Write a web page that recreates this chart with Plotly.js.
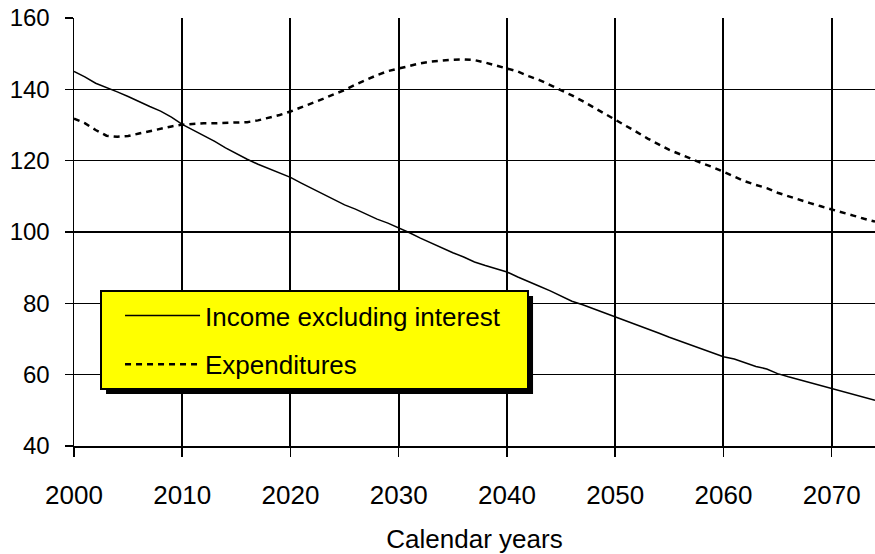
<!DOCTYPE html>
<html>
<head>
<meta charset="utf-8">
<script src="https://cdn.plot.ly/plotly-3.0.1.min.js"></script>
<style>
  html, body { margin: 0; padding: 0; background: #fff; }
  #chart { width: 875px; height: 554px; }
</style>
</head>
<body>
<div id="chart"></div>
<script>
"use strict"

// calendar years 2000..2074
var years = [];
for (var yr = 2000; yr <= 2074; yr++) years.push(yr);

var income = [
	145.0, 143.5, 141.7, 140.6, 139.3, 138.0, 136.5, 135.2, 133.9, 132.2,
	130.2, 128.6, 127.1, 125.4, 123.6, 121.9, 120.4, 119.0, 117.8, 116.6,
	115.3, 113.7, 112.2, 110.6, 109.2, 107.6, 106.4, 104.9, 103.6, 102.5,
	101.2, 99.8, 98.3, 96.9, 95.5, 94.2, 93.0, 91.6, 90.6, 89.8,
	88.8, 87.4, 86.0, 84.8, 83.5, 82.0, 80.6, 79.6, 78.5, 77.4,
	76.3, 75.2, 74.0, 72.8, 71.7, 70.5, 69.4, 68.2, 67.1, 66.1,
	65.0, 64.4, 63.4, 62.3, 61.6, 60.3, 59.4, 58.6, 57.7, 56.8,
	56.0, 55.3, 54.5, 53.8, 52.8
];

var expenditures = [
	131.8, 130.5, 128.6, 127.0, 126.7, 126.9, 127.6, 128.3, 129.0, 129.6,
	130.1, 130.4, 130.5, 130.5, 130.6, 130.6, 130.8, 131.3, 132.0, 132.8,
	133.8, 134.9, 136.0, 137.3, 138.6, 139.8, 141.3, 142.7, 144.0, 145.1,
	145.9, 146.7, 147.3, 147.8, 148.1, 148.3, 148.4, 148.2, 147.5, 146.7,
	145.9, 145.0, 143.7, 142.6, 141.2, 139.8, 138.3, 136.7, 135.0, 133.2,
	131.4, 129.8, 128.0, 126.2, 124.6, 123.0, 121.8, 120.5, 119.3, 118.2,
	116.8, 115.6, 114.2, 113.2, 112.3, 111.0, 110.0, 108.9, 108.1, 107.2,
	106.4, 105.5, 104.6, 103.7, 102.9
];

var xTicks = [2000, 2010, 2020, 2030, 2040, 2050, 2060, 2070];
var yTicks = [40, 60, 80, 100, 120, 140, 160];

var font = 'Liberation Sans, Arial, sans-serif';
var W = 875, H = 554;
var mL = 74, mR = 0, mT = 18, mB = 108;

var incomeTrace = {
	x: years,
	y: income,
	// trailing no-break spaces widen the legend box on the right
	name: 'Income excluding interest\u00a0\u00a0\u00a0',
	legendgroup: 'inc',
	mode: 'lines',
	type: 'scatter',
	line: {color: '#000', width: 1.5}
};

var expTrace = {
	x: years,
	y: expenditures,
	name: 'Expenditures',
	legendgroup: 'exp',
	mode: 'lines',
	type: 'scatter',
	line: {color: '#000', width: 2.5, dash: '6px,5px'}
};

var layout = {
	width: W,
	height: H,
	margin: {l: mL, r: mR, t: mT, b: mB, pad: 0},
	paper_bgcolor: '#fff',
	plot_bgcolor: '#fff',
	font: {family: font, size: 25, color: '#000'},
	showlegend: true,
	legend: {
		x: 0.0325, y: 0.3645,
		xanchor: 'left', yanchor: 'top',
		bgcolor: '#ffff00',
		bordercolor: '#000',
		borderwidth: 2,
		font: {family: font, size: 26, color: '#000'},
		itemwidth: 75,
		indentation: 18,
		tracegroupgap: 12
	},
	xaxis: {
		range: [2000, 2074],
		tickvals: xTicks,
		ticktext: xTicks.map(String),
		tickfont: {family: font, size: 26},
		ticks: 'outside',
		ticklen: 9,
		tickcolor: '#000',
		tickwidth: 1.5,
		ticklabelstandoff: 16,
		showgrid: true,
		gridcolor: '#000',
		gridwidth: 2,
		showline: true,
		linecolor: '#000',
		linewidth: 1.5,
		zeroline: false,
		title: {text: 'Calendar years', font: {family: font, size: 26}, standoff: 26}
	},
	yaxis: {
		range: [40, 160],
		tickvals: yTicks,
		tickfont: {family: font, size: 24},
		ticks: 'outside',
		ticklen: 8,
		tickcolor: '#000',
		tickwidth: 1.5,
		ticklabelstandoff: 10,
		showgrid: true,
		gridcolor: '#000',
		gridwidth: 1.2,
		showline: true,
		linecolor: '#000',
		linewidth: 1.5,
		zeroline: false
	}
};

var gd = document.getElementById('chart');
Plotly.newPlot(gd, [incomeTrace, expTrace], layout, {displayModeBar: false, staticPlot: true}).then(function(){
	// drop shadow under the legend box, offset 5px down-right
	var bg = gd.querySelector('.legend .bg');
	if (!bg) return;
	var box = bg.getBoundingClientRect();
	var host = gd.getBoundingClientRect();
	var pw = W - mL - mR, ph = H - mT - mB;
	var left = box.left - host.left + 5, right = box.right - host.left + 5,
		top = box.top - host.top + 5, bottom = box.bottom - host.top + 5;
	Plotly.relayout(gd, {shapes: [{
		type: 'rect', xref: 'paper', yref: 'paper',
		x0: (left - mL) / pw, x1: (right - mL) / pw,
		y0: (H - mB - bottom) / ph, y1: (H - mB - top) / ph,
		fillcolor: '#000', line: {width: 0}, layer: 'above'
	}]});
});
</script>
</body>
</html>
